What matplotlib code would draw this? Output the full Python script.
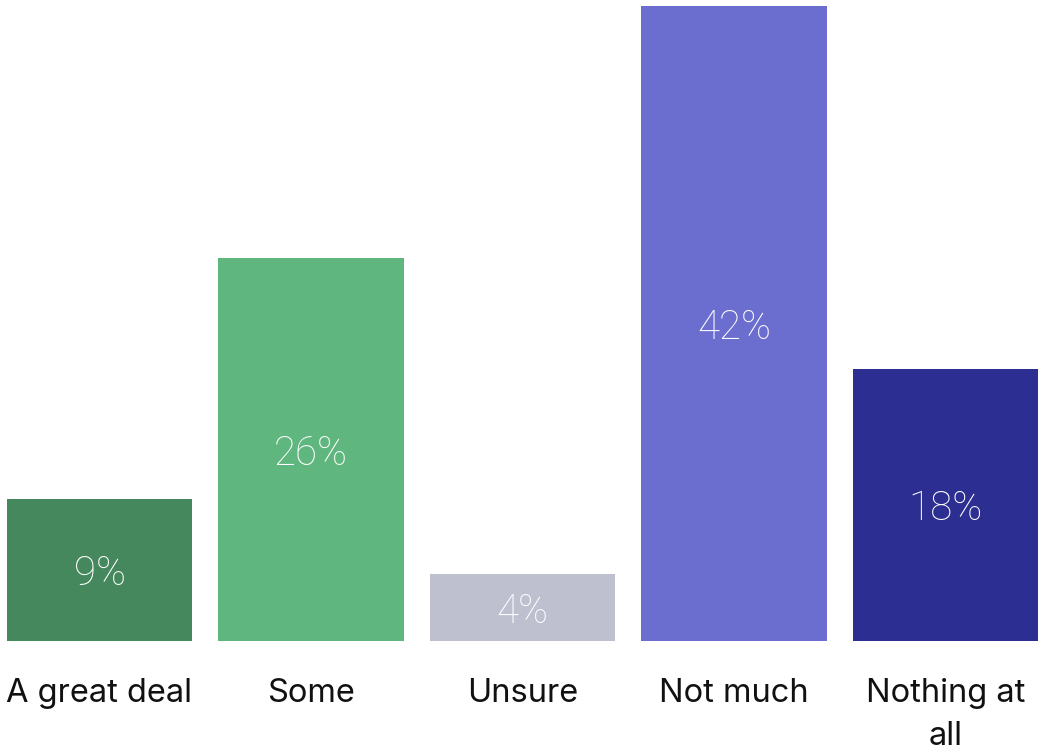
import matplotlib
matplotlib.use("Agg")
import matplotlib.pyplot as plt

categories = ["A great deal", "Some", "Unsure", "Not much", "Nothing at\nall"]
values = [9.4, 25.3, 4.4, 42, 18]
labels = ["9%", "26%", "4%", "42%", "18%"]
colors = ["#46885E", "#5FB67E", "#BEBFCF", "#6C6ECF", "#2D2E91"]

plt.rcParams['font.family'] = ['Inter', 'DejaVu Sans']

fig = plt.figure(figsize=(10.38, 7.52), dpi=100)
ax = fig.add_axes([0, 111/752, 1, 635/752])
x = list(range(len(values)))
ax.bar(x, values, width=0.875, color=colors)
for xi, v, lab in zip(x, values, labels):
    ax.text(xi, v/2 - 0.25, lab, ha='center', va='center', color='white',
            fontsize=29, fontweight='light', family=['Roboto', 'DejaVu Sans'])
ax.set_xlim(-99.5/211.5, (1038-99.5)/211.5)
ax.set_ylim(0, 42)
ax.axis('off')
for xi, c in zip(x, categories):
    ax.text(xi, -2.45, c, ha='center', va='top', color='#111111', fontsize=23.5,
            linespacing=1.5)
fig.savefig("out.png", dpi=100)
